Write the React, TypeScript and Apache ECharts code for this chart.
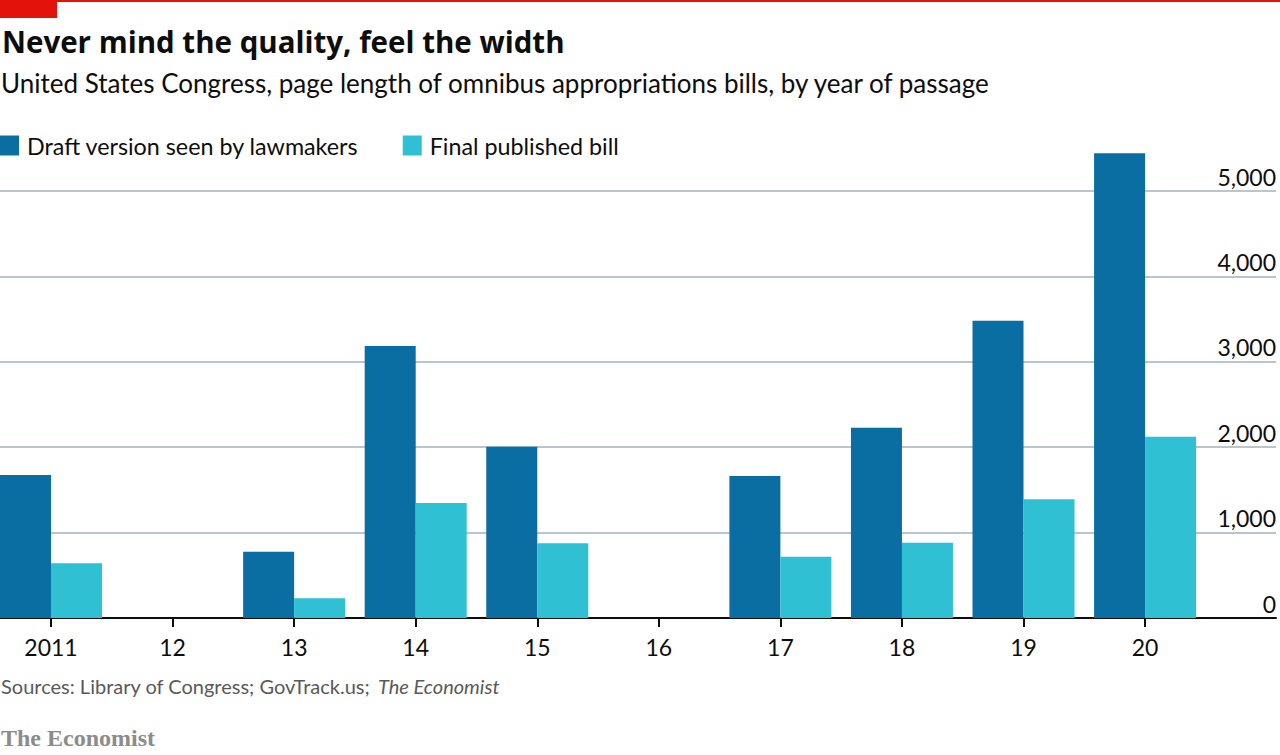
import React, { useEffect, useRef } from "react";
import * as echarts from "echarts";

const categories = ["2011", "12", "13", "14", "15", "16", "17", "18", "19", "20"];
const draftPages = [1674, null, 776, 3185, 2005, null, 1663, 2228, 3481, 5441];
const finalPages = [640, null, 231, 1347, 875, null, 718, 882, 1390, 2123];
const seriesNames = ["Draft version seen by lawmakers", "Final published bill"];

const FONT = "Lato, 'Noto Sans', sans-serif";
const TITLE_FONT = "'Open Sans', 'Noto Sans', sans-serif";

const positions = categories.map((_, i) => i);
const toPairs = (vals: (number | null)[]) =>
  vals.map((v, i) => (v == null ? null : [i, v])).filter((d) => d !== null);

export default function App() {
  const ref = useRef<HTMLDivElement>(null);
  useEffect(() => {
    const chart = echarts.init(ref.current!, null, { renderer: "svg" });
    chart.setOption({
      animation: false,
      backgroundColor: "#ffffff",
      textStyle: { fontFamily: FONT },
      grid: { left: 0, right: 4, top: 191, bottom: 137, containLabel: false },
      legend: {
        data: seriesNames,
        left: 0,
        top: 134,
        padding: 0,
        icon: "rect",
        itemWidth: 19,
        itemHeight: 20,
        itemGap: 44,
        textStyle: { fontSize: 23.3, color: "#0d0d0d", fontFamily: FONT, padding: [0, 0, 0, 3] },
        selectedMode: false,
      },
      xAxis: {
        type: "value",
        min: -0.4196,
        max: 10.077,
        axisLine: { show: true, onZero: true, lineStyle: { color: "#0d0d0d", width: 2 } },
        axisTick: {
          show: true,
          customValues: positions,
          length: 9,
          lineStyle: { color: "#0d0d0d", width: 2 },
        },
        axisLabel: {
          customValues: positions,
          fontSize: 23,
          color: "#0d0d0d",
          margin: 17,
          fontFamily: FONT,
          formatter: (v: number) => categories[Math.round(v)] ?? "",
        },
        splitLine: { show: false },
      },
      yAxis: {
        type: "value",
        position: "right",
        min: 0,
        max: 5000,
        interval: 1000,
        axisLine: { show: false },
        axisTick: { show: false },
        axisLabel: {
          inside: true,
          margin: 0,
          fontSize: 23,
          color: "#0d0d0d",
          fontFamily: FONT,
          verticalAlign: "bottom",
          padding: [0, 0, 3, 0],
          formatter: (v: number) => v.toLocaleString("en-US"),
        },
        splitLine: { show: true, lineStyle: { color: "#b7c6cf", width: 2 } },
      },
      series: [
        {
          name: seriesNames[0],
          type: "bar",
          data: toPairs(draftPages),
          barWidth: 51,
          barGap: "0%",
          clip: false,
          itemStyle: { color: "#0a6ea3" },
          z: 3,
        },
        {
          name: seriesNames[1],
          type: "bar",
          data: toPairs(finalPages),
          barWidth: 51,
          barGap: "0%",
          clip: false,
          itemStyle: { color: "#30c0d4" },
          z: 3,
        },
      ],
      graphic: [
        { type: "rect", left: 0, top: 0, shape: { width: 1280, height: 2 }, style: { fill: "#e3120b" } },
        { type: "rect", left: 0, top: 0, shape: { width: 57, height: 18 }, style: { fill: "#e3120b" } },
        {
          type: "text",
          left: 2,
          top: 26,
          style: { text: "Never mind the quality, feel the width", font: `bold 29.5px ${TITLE_FONT}`, fill: "#0d0d0d" },
        },
        {
          type: "text",
          left: 1,
          top: 70,
          style: {
            text: "United States Congress, page length of omnibus appropriations bills, by year of passage",
            font: `26px ${FONT}`,
            fill: "#0d0d0d",
          },
        },
        {
          type: "text",
          left: 1,
          top: 676,
          style: {
            text: "Sources: Library of Congress; GovTrack.us; ",
            font: `20px ${FONT}`,
            fill: "#595959",
          },
        },
        {
          type: "text",
          left: 378,
          top: 676,
          style: { text: "The Economist", font: `italic 20px ${FONT}`, fill: "#595959" },
        },
        {
          type: "text",
          left: 1,
          top: 726,
          style: { text: "The Economist", font: "bold 24px 'Liberation Serif', 'DejaVu Serif', serif", fill: "#8c8c8c" },
        },
      ],
    });
    return () => chart.dispose();
  }, []);
  return <div ref={ref} style={{ width: 1280, height: 755, position: "absolute", left: 0, top: 0 }} />;
}
